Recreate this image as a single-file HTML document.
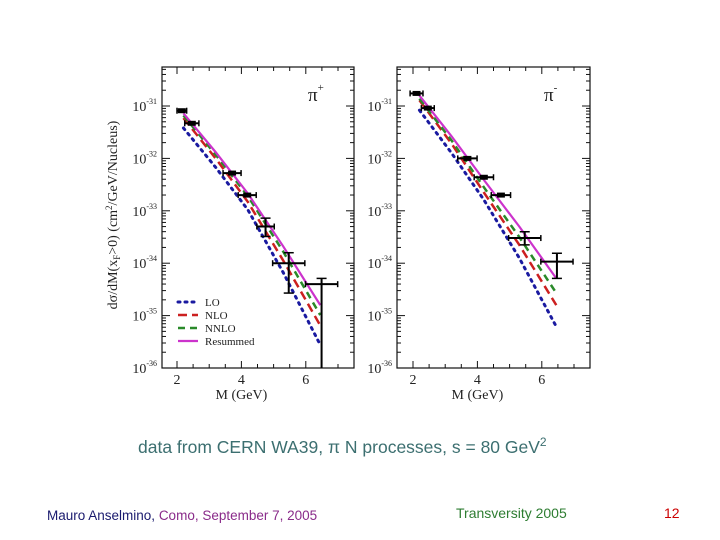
<!DOCTYPE html>
<html><head><meta charset="utf-8"><style>
html,body{margin:0;padding:0;background:#fff;width:720px;height:540px;overflow:hidden}
svg{display:block}
.t{font-family:"Liberation Serif",serif;fill:#222}
</style></head><body>
<svg id="chart" width="720" height="540" viewBox="0 0 720 540" xmlns="http://www.w3.org/2000/svg">
<g id="plots"></g>
<text x="117" y="215" class="t" font-size="14" text-anchor="middle" transform="rotate(-90 117 215)">dσ/dM(x<tspan font-size="9" dy="3">F</tspan><tspan dy="-3">&gt;0) (cm</tspan><tspan font-size="9" dy="-5">2</tspan><tspan dy="5">/GeV/Nucleus)</tspan></text>
<text x="138" y="453" font-family="Liberation Sans, sans-serif" font-size="17.5" fill="#3c6f70">data from CERN WA39, π N processes, s = 80 GeV<tspan font-size="12" dy="-7">2</tspan></text>
<text x="47" y="520" font-family="Liberation Sans, sans-serif" font-size="13.5"><tspan fill="#1a1a6e">Mauro Anselmino, </tspan><tspan fill="#8a2b8a">Como, September 7, 2005</tspan></text>
<text x="456" y="518" font-family="Liberation Sans, sans-serif" font-size="14" fill="#2e7d32">Transversity 2005</text>
<text x="664" y="518" font-family="Liberation Sans, sans-serif" font-size="14" fill="#cc0000">12</text>
</svg>
<script>
// shared x locations of theory curves
const curveX = [2.2, 3.2, 4.2, 5.3, 6.45];
// pi+ data (log10 cross section)
const pipM = [2.15, 2.46, 3.71, 4.18, 4.75, 5.47, 6.49];
const pipMerr = [0.15, 0.22, 0.28, 0.28, 0.27, 0.5, 0.5];
const pipV = [-31.09, -31.33, -32.28, -32.70, -33.30, -34.0, -34.40];
const pipVhi = [-31.09, -31.33, -32.28, -32.70, -33.14, -33.8, -34.29];
const pipVlo = [-31.09, -31.33, -32.28, -32.70, -33.49, -34.57, -36.0];
const pipRes = [-31.14, -31.88, -32.67, -33.68, -34.80];
const pipNNLO = [-31.18, -31.93, -32.72, -33.78, -34.99];
const pipNLO = [-31.23, -32.0, -32.83, -33.95, -35.19];
const pipLO = [-31.42, -32.17, -32.98, -34.18, -35.56];
// pi- data
const pimM = [2.11, 2.46, 3.69, 4.2, 4.73, 5.47, 6.47];
const pimMerr = [0.2, 0.2, 0.3, 0.3, 0.3, 0.5, 0.5];
const pimV = [-30.76, -31.04, -32.0, -32.36, -32.70, -33.52, -33.97];
const pimVhi = [-30.76, -31.04, -32.0, -32.36, -32.70, -33.40, -33.81];
const pimVlo = [-30.76, -31.04, -32.0, -32.36, -32.70, -33.65, -34.29];
const pimRes = [-30.80, -31.58, -32.41, -33.30, -34.29];
const pimNNLO = [-30.86, -31.66, -32.55, -33.50, -34.57];
const pimNLO = [-30.89, -31.72, -32.65, -33.65, -34.80];
const pimLO = [-31.08, -31.90, -32.79, -33.90, -35.21];
const xTicks = [2, 4, 6];
const yDecades = [-31, -32, -33, -34, -35, -36];

const NS = "http://www.w3.org/2000/svg";
const root = document.getElementById("plots");
function el(tag, attrs, parent) {
  const e = document.createElementNS(NS, tag);
  for (const k in attrs) e.setAttribute(k, attrs[k]);
  (parent || root).appendChild(e);
  return e;
}
function panel(name, left, right, x2px, data) {
  const top = 67, bottom = 368;
  const g = el("g", {});
  
  
  const X = m => x2px + (m - 2) * 32.2;
  const Y = v => 106 + (-31 - v) * 52.4;
  const frame = el("rect", {x: left, y: top, width: right - left, height: bottom - top, fill: "none", stroke: "#111", "stroke-width": 1.2}, g);
  
  
  for (let m = 1.5; m <= 7.5; m += 0.5) {
    const px = X(m); if (px <= left || px >= right) continue;
    const len = Number.isInteger(m / 2) ? 7 : 4;
    el("line", {x1: px, x2: px, y1: bottom, y2: bottom - len, stroke: "#111"}, g);
    el("line", {x1: px, x2: px, y1: top, y2: top + len, stroke: "#111"}, g);
  }
  xTicks.forEach(m => {
    const t = el("text", {x: X(m), y: bottom + 16, "text-anchor": "middle", "font-size": 14, class: "t"}, g);
    t.textContent = m;
    
    
  });
  const xt = el("text", {x: X(4), y: bottom + 31, "text-anchor": "middle", "font-size": 14, class: "t"}, g);
  xt.textContent = "M (GeV)";
  
  
  for (let d = -37; d <= -30; d++) {
    for (let k = 1; k < 10; k++) {
      const v = d + Math.log10(k);
      const py = Y(v); if (py < top || py > bottom) continue;
      const len = k === 1 ? 8 : 4;
      el("line", {x1: left, x2: left + len, y1: py, y2: py, stroke: "#111"}, g);
      el("line", {x1: right, x2: right - len, y1: py, y2: py, stroke: "#111"}, g);
    }
  }
  yDecades.forEach(d => {
    const t = el("text", {x: left - 5, y: Y(d) + 5, "text-anchor": "end", "font-size": 14, class: "t"}, g);
    t.textContent = "10";
    const s = el("tspan", {dy: -7, "font-size": 8}, t);
    s.textContent = String(d);
    
    
  });
  const styles = [
    [data.lo, "#1a1aa0", "2 5", 3, "curve-lo"],
    [data.nlo, "#cc2020", "9 5", 2.5, "curve-nlo"],
    [data.nnlo, "#2a8a2a", "7 5", 2.5, "curve-nnlo"],
    [data.res, "#cc33cc", "", 2.2, "curve-resummed"]
  ];
  styles.forEach(([vals, col, dash, w, nm]) => {
    const p = el("polyline", {points: curveX.map((m, i) => X(m) + "," + Y(vals[i])).join(" "), fill: "none", stroke: col, "stroke-width": w, "stroke-dasharray": dash, "stroke-linecap": dash === "2 5" ? "round" : "butt"}, g);
    
    
  });
  data.m.forEach((m, i) => {
    const pg = el("g", {stroke: "#000", "stroke-width": 1.5}, g);
    
    
    const cy = Y(data.v[i]);
    el("line", {x1: X(m - data.me[i]), x2: X(m + data.me[i]), y1: cy, y2: cy, "stroke-width": 2}, pg);
    el("line", {x1: X(m - data.me[i]), x2: X(m - data.me[i]), y1: cy - 3, y2: cy + 3}, pg);
    el("line", {x1: X(m + data.me[i]), x2: X(m + data.me[i]), y1: cy - 3, y2: cy + 3}, pg);
    const hi = Y(data.hi[i]), lo = Math.min(Y(data.lo2[i]), bottom);
    if (lo - hi > 3) {
      el("line", {x1: X(m), x2: X(m), y1: hi, y2: lo, "stroke-width": 2}, pg);
      el("line", {x1: X(m) - 5, x2: X(m) + 5, y1: hi, y2: hi}, pg);
      if (lo < bottom) el("line", {x1: X(m) - 5, x2: X(m) + 5, y1: lo, y2: lo}, pg);
    } else {
      el("line", {x1: X(m) - 4, x2: X(m) + 4, y1: cy, y2: cy, "stroke-width": 5}, pg);
    }
  });
  const lbl = el("text", {x: right - 46, y: 101, "font-size": 19, class: "t"}, g);
  lbl.textContent = data.label;
  const sup = el("tspan", {dy: -10, "font-size": 11}, lbl);
  sup.textContent = data.sign;
  
  
  return g;
}
panel("panel-pi-plus", 162, 354, 177, {m: pipM, me: pipMerr, v: pipV, hi: pipVhi, lo2: pipVlo, res: pipRes, nnlo: pipNNLO, nlo: pipNLO, lo: pipLO, label: "π", sign: "+"});
panel("panel-pi-minus", 397, 590, 413, {m: pimM, me: pimMerr, v: pimV, hi: pimVhi, lo2: pimVlo, res: pimRes, nnlo: pimNNLO, nlo: pimNLO, lo: pimLO, label: "π", sign: "-"});
const leg = el("g", {});


[["LO", "#1a1aa0", "2 5", 3], ["NLO", "#cc2020", "9 5", 2.5], ["NNLO", "#2a8a2a", "7 5", 2.5], ["Resummed", "#cc33cc", "", 2.2]].forEach(([n, c, d, w], i) => {
  const y = 302 + i * 13;
  const e = el("g", {}, leg);
  
  
  el("line", {x1: 178, x2: 198, y1: y, y2: y, stroke: c, "stroke-width": w, "stroke-dasharray": d, "stroke-linecap": d === "2 5" ? "round" : "butt"}, e);
  const t = el("text", {x: 205, y: y + 4, "font-size": 11, class: "t"}, e);
  t.textContent = n;
});
</script>
</body></html>
